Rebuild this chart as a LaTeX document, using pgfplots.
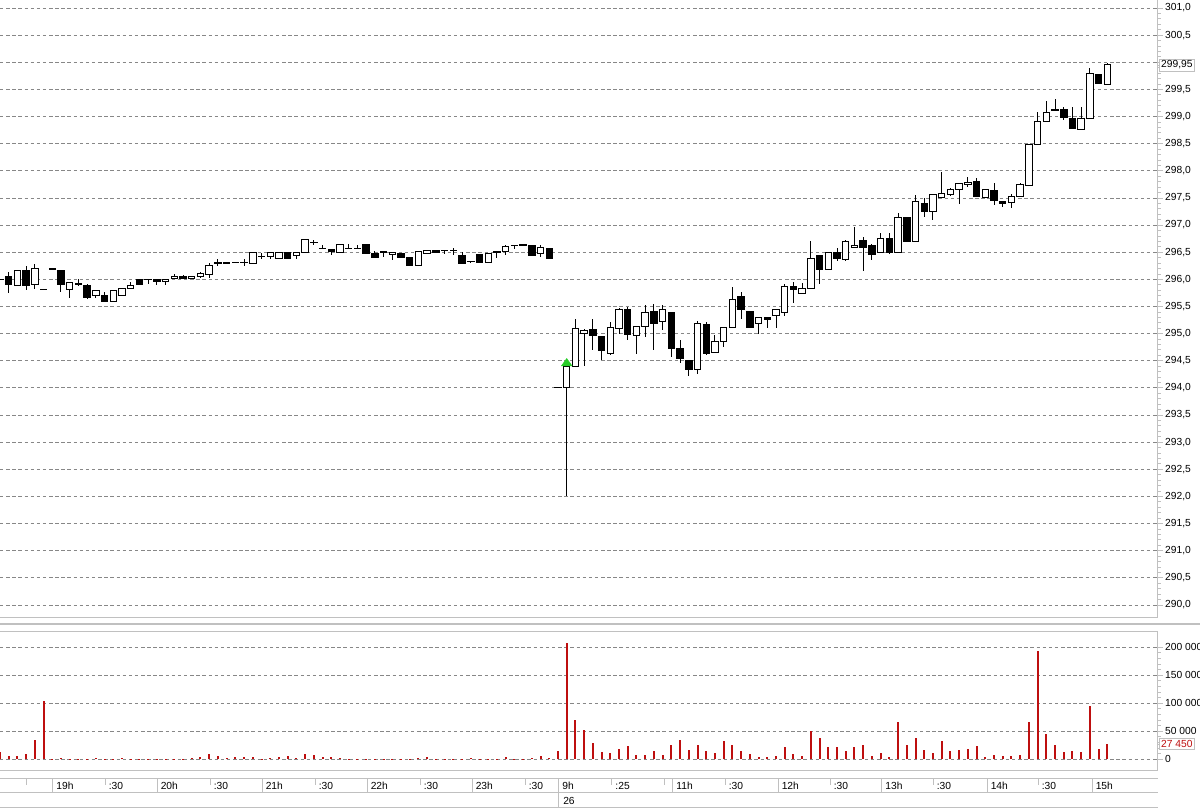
\documentclass[border=0pt]{standalone}
\usepackage{fontspec}
\setmainfont{Liberation Sans}
\usepackage{pgfplots}
\usepackage{pgfplotstable}
\pgfplotsset{compat=1.18}

\definecolor{gridgray}{RGB}{135,135,135}
\definecolor{framegray}{RGB}{192,192,192}
\definecolor{volred}{RGB}{190,15,15}
\definecolor{upgreen}{RGB}{40,205,40}

% k = bar index (0 = 9h open), o h l c = open high low close, v = volume
\pgfplotstableread{
k o h l c v
-65 296.00 296.05 295.93 296.00 13700
-64 296.05 296.14 295.74 295.90 6000
-63 295.88 296.16 295.88 296.16 6000
-62 296.17 296.25 295.81 295.88 9500
-61 295.90 296.28 295.83 296.20 34500
-60 295.81 295.81 295.81 295.81 104700
-59 296.19 296.19 296.19 296.19 1200
-58 296.17 296.17 295.77 295.91 1800
-57 295.81 295.94 295.65 295.94 1000
-56 295.93 296.00 295.88 295.90 1200
-55 295.88 295.91 295.65 295.66 1000
-54 295.71 295.79 295.65 295.79 1500
-53 295.71 295.77 295.60 295.60 1000
-52 295.60 295.80 295.60 295.80 800
-51 295.70 295.83 295.70 295.83 1500
-50 295.83 295.96 295.83 295.88 1000
-49 295.99 296.01 295.89 295.91 800
-48 295.99 295.99 295.91 295.99 800
-47 296.00 296.00 295.90 295.96 800
-46 295.96 296.00 295.90 296.00 800
-45 296.02 296.10 296.02 296.06 1000
-44 296.05 296.08 296.02 296.02 800
-43 296.02 296.06 296.02 296.06 1500
-42 296.06 296.14 296.02 296.11 4800
-41 296.08 296.31 296.02 296.25 9500
-40 296.30 296.37 296.25 296.30 6000
-39 296.30 296.30 296.30 296.30 1500
-38 296.31 296.31 296.31 296.31 3600
-37 296.31 296.37 296.25 296.31 4800
-36 296.30 296.49 296.30 296.49 3600
-35 296.42 296.48 296.37 296.42 1200
-34 296.42 296.49 296.37 296.49 1500
-33 296.39 296.49 296.39 296.49 4800
-32 296.49 296.51 296.39 296.39 6000
-31 296.43 296.49 296.37 296.49 2000
-30 296.49 296.73 296.49 296.73 9500
-29 296.68 296.73 296.63 296.68 7700
-28 296.56 296.63 296.56 296.56 4800
-27 296.55 296.55 296.45 296.51 3600
-26 296.50 296.65 296.50 296.65 3000
-25 296.56 296.65 296.56 296.56 1000
-24 296.56 296.63 296.56 296.56 1000
-23 296.65 296.65 296.47 296.47 1000
-22 296.48 296.52 296.41 296.41 1000
-21 296.50 296.50 296.42 296.50 800
-20 296.45 296.49 296.36 296.49 800
-19 296.48 296.48 296.41 296.41 800
-18 296.41 296.41 296.25 296.25 1000
-17 296.25 296.51 296.25 296.51 3000
-16 296.47 296.54 296.47 296.54 4800
-15 296.53 296.53 296.50 296.50 1000
-14 296.53 296.53 296.47 296.53 800
-13 296.53 296.57 296.45 296.53 800
-12 296.44 296.51 296.30 296.30 1000
-11 296.32 296.32 296.30 296.32 3000
-10 296.45 296.45 296.31 296.31 800
-9 296.31 296.48 296.31 296.48 800
-8 296.50 296.50 296.39 296.50 1000
-7 296.51 296.63 296.45 296.60 4800
-6 296.62 296.62 296.55 296.62 1000
-5 296.64 296.64 296.62 296.62 1000
-4 296.62 296.62 296.43 296.43 3000
-3 296.48 296.63 296.42 296.59 6000
-2 296.57 296.57 296.39 296.39 3000
-1 294.00 294.00 294.00 294.00 15000
0 294.00 294.45 292.00 294.40 207000
1 294.40 295.26 294.40 295.09 70200
2 295.00 295.09 294.40 295.06 52400
3 295.07 295.26 294.69 294.97 28600
4 294.95 294.95 294.51 294.68 13700
5 294.63 295.21 294.60 295.11 11900
6 295.09 295.48 295.00 295.44 17900
7 295.44 295.49 294.88 294.99 23800
8 294.97 295.13 294.62 295.13 7700
9 295.13 295.52 294.94 295.38 7700
10 295.41 295.54 294.70 295.18 15500
11 295.23 295.52 295.07 295.44 7700
12 295.38 295.38 294.56 294.72 25600
13 294.72 294.88 294.46 294.54 34500
14 294.50 294.50 294.21 294.34 16700
15 294.34 295.24 294.25 295.19 25600
16 295.17 295.21 294.62 294.63 15500
17 294.66 294.97 294.66 294.85 11900
18 294.85 295.12 294.75 295.12 32700
19 295.12 295.85 295.12 295.62 25600
20 295.68 295.76 295.27 295.44 15500
21 295.40 295.40 295.11 295.11 9500
22 295.19 295.29 295.00 295.29 4800
23 295.29 295.31 295.11 295.26 3600
24 295.33 295.44 295.11 295.44 6000
25 295.38 295.92 295.32 295.87 22600
26 295.87 295.95 295.56 295.81 9500
27 295.74 295.93 295.74 295.83 6000
28 295.83 296.71 295.83 296.39 50600
29 296.44 296.44 295.92 296.18 38700
30 296.18 296.49 296.18 296.49 22600
31 296.49 296.58 296.34 296.39 22600
32 296.37 296.73 296.34 296.70 15500
33 296.59 296.97 296.59 296.63 22600
34 296.71 296.78 296.16 296.59 25600
35 296.62 296.65 296.35 296.46 6000
36 296.49 296.85 296.49 296.76 10700
37 296.76 296.85 296.47 296.49 3600
38 296.49 297.22 296.49 297.14 66000
39 297.14 297.14 296.70 296.70 25600
40 296.70 297.56 296.70 297.44 38700
41 297.40 297.50 297.14 297.25 16700
42 297.25 297.56 297.09 297.56 11900
43 297.50 297.97 297.50 297.59 32700
44 297.57 297.69 297.53 297.65 15500
45 297.65 297.76 297.38 297.76 16700
46 297.74 297.89 297.70 297.78 19000
47 297.81 297.87 297.52 297.52 23800
48 297.50 297.66 297.50 297.66 3600
49 297.64 297.78 297.37 297.45 8300
50 297.44 297.44 297.34 297.39 6000
51 297.41 297.58 297.32 297.53 6000
52 297.53 297.78 297.53 297.74 7100
53 297.72 298.49 297.72 298.49 66000
54 298.49 299.09 298.49 298.91 194000
55 298.91 299.29 298.91 299.08 45800
56 299.13 299.32 299.11 299.11 25600
57 299.13 299.17 298.94 298.98 13700
58 298.97 299.18 298.77 298.77 15500
59 298.76 299.18 298.75 298.97 13700
60 298.97 299.89 298.97 299.80 95200
61 299.78 299.78 299.61 299.61 19000
62 299.59 299.99 299.59 299.95 27450
}\bars

\tikzset{lbl/.style={font=\fontsize{7.7}{9}\selectfont}}

\pgfplotsset{
  panel/.style={scale only axis, anchor=south west, width=868.125pt,
    xmin=-64.99, xmax=67.75, xtick=\empty, clip=true},
  pricegeo/.style={panel, at={(0pt,144.525pt)}, height=462.975pt,
    ymin=289.773, ymax=301.147},
  ruled/.style={axis x line*=bottom, axis y line*=right,
    axis line style={framegray, line width=0.75pt},
    tick align=outside, major tick length=3.75pt, minor tick length=2.25pt,
    every tick/.style={framegray, line width=0.6pt},
    minor y tick num=4, ymajorgrids,
    major grid style={gridgray, line width=0.6pt, dash pattern=on 2.6pt off 2pt},
    yticklabel style={lbl, anchor=west, black, xshift=-1.5pt}},
}

\begin{document}
\begin{tikzpicture}
\useasboundingbox (0,0) rectangle (900pt,607.5pt);

% price panel: grid, scale, wicks
\begin{axis}[pricegeo, ruled,
  ytick={290,290.5,...,301},
  yticklabels={{290,0},{290,5},{291,0},{291,5},{292,0},{292,5},{293,0},{293,5},
    {294,0},{294,5},{295,0},{295,5},{296,0},{296,5},{297,0},{297,5},{298,0},
    {298,5},{299,0},{299,5},{},{300,5},{301,0}},
  extra y ticks={299.95}, extra y tick labels={299{,}95},
  extra y tick style={grid=none,
    yticklabel style={draw=framegray, fill=white, inner sep=1.3pt, xshift=-1pt}}]
\addplot[draw=none, no markers,
  error bars/.cd, y dir=both, y explicit, error mark=none,
  error bar style={draw=black, solid, line width=0.75pt}]
  table[x=k, y=c, y error plus expr={\thisrow{h}-\thisrow{c}},
        y error minus expr={\thisrow{c}-\thisrow{l}}] {\bars};
\end{axis}

% candle bodies (a doji gets a hairline body so it shows as a dash)
\begin{axis}[pricegeo, hide axis, ybar stacked, bar width=0.74]
\addplot[draw=none, fill=none] table[x=k, y expr={min(\thisrow{o},\thisrow{c})}] {\bars};
\addplot[draw=black, fill=white, line width=0.75pt]
  table[x=k, y expr={\thisrow{c}>=\thisrow{o} ? max(\thisrow{c}-\thisrow{o},0.004) : 0}] {\bars};
\addplot[draw=black, fill=black, line width=0.75pt]
  table[x=k, y expr={max(\thisrow{o}-\thisrow{c},0)}] {\bars};
\end{axis}

% opening signal
\begin{axis}[pricegeo, hide axis]
\addplot[only marks, mark=triangle*, mark size=4.6pt,
  mark options={fill=upgreen, draw=upgreen, yscale=0.8}] coordinates {(0,294.45)};
\end{axis}

% volume panel
\begin{axis}[panel, ruled, at={(0pt,29.25pt)}, height=104.625pt,
  ymin=-20893, ymax=228214, scaled y ticks=false,
  ytick={0,50000,100000,150000,200000},
  yticklabels={0,50 000,100 000,150 000,200 000},
  extra y ticks={27450}, extra y tick labels={27 450},
  extra y tick style={grid=none,
    yticklabel style={draw=framegray, fill=white, text=volred, inner sep=1.3pt, xshift=-1pt}}]
\addplot[ycomb, volred, line width=1.5pt, mark=none] table[x=k, y=v] {\bars};
\end{axis}

% frames and time scale, in pixel units
\begin{scope}[x=0.75pt, y=-0.75pt, yshift=607.5pt]
\draw[framegray, line width=1.5pt] (0,624.3) -- (1200,624.3);
\draw[framegray, line width=0.75pt] (0,631.5) -- (1157.5,631.5);
\draw[framegray, line width=0.75pt] (0,779) -- (1157.5,779);
\draw[framegray, line width=0.75pt] (0,792.7) -- (1157.5,792.7);
\draw[framegray, line width=0.75pt] (0,807.3) -- (1157.5,807.3);
\draw[framegray, line width=0.75pt] (26,779) -- (26,785);
\draw[framegray, line width=0.75pt] (664,779) -- (664,785);
\draw[framegray, line width=0.75pt] (558.7,779) -- (558.7,807.3);
\foreach \px/\lab/\len in {52.7/19h/1, 105/:30/0, 157/20h/1, 210/:30/0,
    262/21h/1, 315/:30/0, 367/22h/1, 420/:30/0, 472/23h/1, 525/:30/0,
    558.7/9h/1, 611.7/:25/0, 672.7/11h/1, 725/:30/0, 778/12h/1, 830/:30/0,
    881.7/13h/1, 933/:30/0, 987/14h/1, 1038/:30/0, 1092/15h/1} {
  \ifnum\len=1
    \draw[framegray, line width=0.75pt] (\px,779) -- (\px,792.7);
  \else
    \draw[framegray, line width=0.75pt] (\px,779) -- (\px,785);
  \fi
  \node[lbl, anchor=west, inner sep=0pt] at (\px+3.5,786) {\lab};
}
\node[lbl, anchor=west, inner sep=0pt] at (563,800.5) {26};
\end{scope}
\end{tikzpicture}
\end{document}
